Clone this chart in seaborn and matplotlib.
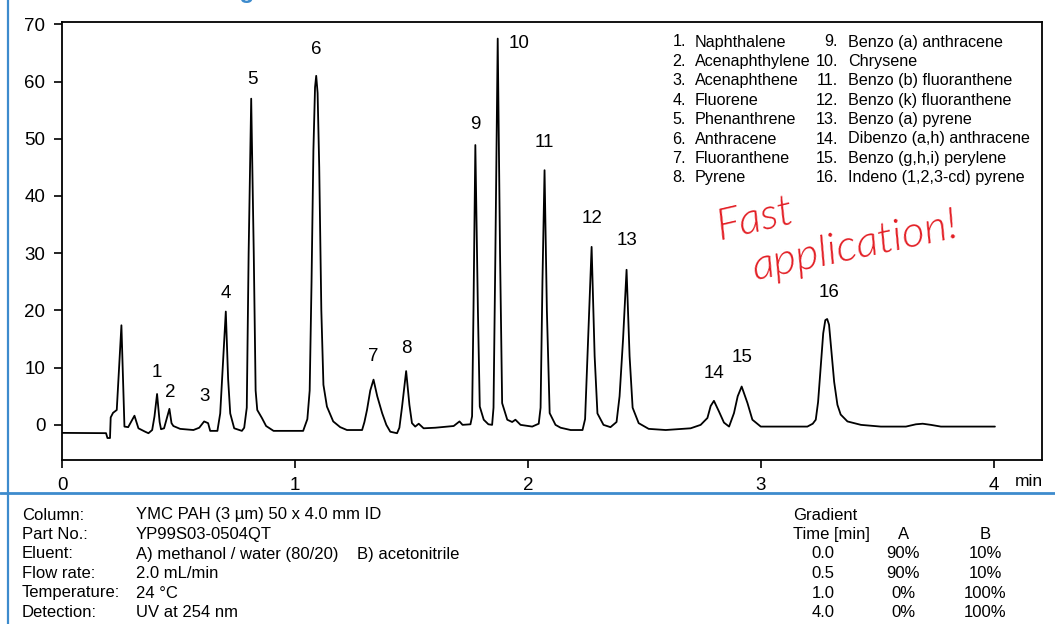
import matplotlib
matplotlib.use("Agg")
import matplotlib.pyplot as plt
from matplotlib.lines import Line2D
import seaborn as sns
import pandas as pd

# ---------------- data ----------------
times = [0.000, 0.189, 0.195, 0.206, 0.209, 0.219, 0.235, 0.255, 0.268, 0.284,
         0.311, 0.328, 0.357, 0.371, 0.387, 0.397, 0.408, 0.419, 0.425, 0.438,
         0.449, 0.461, 0.470, 0.478, 0.507, 0.564, 0.589, 0.610, 0.627, 0.636,
         0.667, 0.679, 0.690, 0.703, 0.713, 0.722, 0.729, 0.739, 0.772, 0.782,
         0.793, 0.801, 0.812, 0.823, 0.831, 0.838, 0.858, 0.876, 0.908, 1.035,
         1.053, 1.063, 1.071, 1.079, 1.086, 1.091, 1.097, 1.104, 1.113, 1.122,
         1.137, 1.164, 1.194, 1.223, 1.288, 1.298, 1.309, 1.323, 1.337, 1.353,
         1.374, 1.392, 1.409, 1.438, 1.448, 1.459, 1.477, 1.491, 1.502, 1.516,
         1.531, 1.552, 1.602, 1.681, 1.697, 1.706, 1.719, 1.753, 1.760, 1.766,
         1.774, 1.785, 1.793, 1.810, 1.830, 1.846, 1.852, 1.860, 1.870, 1.880,
         1.889, 1.911, 1.932, 1.946, 1.968, 2.018, 2.046, 2.054, 2.062, 2.071,
         2.081, 2.093, 2.118, 2.140, 2.183, 2.234, 2.245, 2.258, 2.273, 2.286,
         2.298, 2.324, 2.354, 2.380, 2.393, 2.408, 2.423, 2.436, 2.449, 2.475,
         2.518, 2.591, 2.698, 2.741, 2.770, 2.784, 2.798, 2.820, 2.841, 2.863,
         2.884, 2.900, 2.917, 2.942, 2.963, 2.999, 3.199, 3.222, 3.235, 3.245,
         3.256, 3.267, 3.276, 3.284, 3.292, 3.302, 3.314, 3.328, 3.342, 3.371,
         3.429, 3.514, 3.622, 3.665, 3.694, 3.729, 3.772, 4.004]
signal = [-1.4, -1.45, -2.3, -2.3, 1.3, 2.1, 2.6, 17.4, -0.3, -0.4,
          1.6, -0.6, -1.2, -1.46, -0.9, 1.5, 5.4, 0.5, -0.76, -0.6,
          1.0, 2.8, 0.3, -0.2, -0.7, -0.9, -0.5, 0.6, 0.3, -1.05,
          -1.05, 2.0, 10.0, 19.8, 8.0, 2.0, 0.9, -0.6, -1.05, -0.5,
          3.0, 30.0, 57.0, 30.0, 6.0, 2.6, 1.2, -0.2, -1.05, -1.05,
          1.0, 6.0, 25.0, 48.0, 59.0, 61.0, 58.0, 45.0, 20.0, 7.0,
          3.2, 0.6, -0.4, -0.9, -0.9, 0.5, 2.6, 6.0, 7.9, 5.0,
          2.05, 0.0, -1.2, -1.46, -0.5, 3.0, 9.4, 3.5, 0.3, -0.3,
          0.2, -0.6, -0.5, -0.2, 0.3, 0.6, 0.0, 0.1, 1.5, 20.0,
          48.9, 20.0, 3.2, 0.9, 0.1, 0.0, 3.0, 30.0, 67.5, 30.0,
          3.8, 0.9, 0.5, 0.9, 0.0, -0.3, 0.2, 3.0, 25.0, 44.5,
          20.0, 2.05, 0.0, -0.5, -0.9, -0.9, 1.0, 15.0, 31.1, 12.0,
          2.0, 0.0, -0.4, 0.5, 5.0, 15.0, 27.1, 12.0, 3.0, 0.3,
          -0.7, -0.9, -0.6, 0.0, 1.2, 3.3, 4.2, 2.3, 0.4, -0.3,
          2.05, 5.0, 6.7, 3.8, 0.9, -0.3, -0.3, 0.2, 0.9, 4.0,
          10.0, 16.0, 18.3, 18.5, 17.5, 13.0, 7.5, 3.5, 1.8, 0.6,
          0.0, -0.3, -0.3, 0.1, 0.2, 0.0, -0.3, -0.3]

peak_ids = ["1", "2", "3", "4", "5", "6", "7", "8",
            "9", "10", "11", "12", "13", "14", "15", "16"]
label_t = [0.408, 0.464, 0.610, 0.705, 0.816, 1.091, 1.336, 1.478,
           1.774, 1.963, 2.071, 2.273, 2.427, 2.797, 2.917, 3.290]
label_v = [9.1, 5.6, 4.9, 23.0, 60.3, 65.6, 12.0, 13.4,
           52.5, 66.6, 49.4, 36.0, 32.2, 9.0, 11.8, 23.2]

compounds = ["Naphthalene", "Acenaphthylene", "Acenaphthene", "Fluorene",
             "Phenanthrene", "Anthracene", "Fluoranthene", "Pyrene",
             "Benzo (a) anthracene", "Chrysene", "Benzo (b) fluoranthene",
             "Benzo (k) fluoranthene", "Benzo (a) pyrene",
             "Dibenzo (a,h) anthracene", "Benzo (g,h,i) perylene",
             "Indeno (1,2,3-cd) pyrene"]

x_ticks = [0, 1, 2, 3, 4]
y_ticks = [0, 10, 20, 30, 40, 50, 60, 70]

cond_labels = ["Column:", "Part No.:", "Eluent:", "Flow rate:", "Temperature:", "Detection:"]
cond_values = ["YMC PAH (3 µm) 50 x 4.0 mm ID", "YP99S03-0504QT",
               "A) methanol / water (80/20)", "2.0 mL/min", "24 °C", "UV at 254 nm"]
eluent_b = "B) acetonitrile"

grad_time = ["0.0", "0.5", "1.0", "4.0"]
grad_a = ["90%", "90%", "0%", "0%"]
grad_b = ["10%", "10%", "100%", "100%"]

title_text = "16 PAHs according to EPA 610"
note_line1 = "Fast"
note_line2 = "application!"

# ---------------- figure ----------------
sns.set_theme(style="ticks")
plt.rcParams["font.family"] = ["Liberation Sans", "DejaVu Sans"]

W, H = 1055, 624
fig = plt.figure(figsize=(W / 100, H / 100), dpi=100)
fig.patch.set_facecolor("white")


def P(px, py):
    return px / W, 1 - py / H


ax = fig.add_axes([62 / W, 1 - 460 / H, (1042 - 62) / W, (460 - 22) / H])
df = pd.DataFrame({"time": times, "signal": signal})
sns.lineplot(data=df, x="time", y="signal", ax=ax, color="black",
             linewidth=1.3, sort=False, estimator=None)

ax.set_xlim(0, 4.206)
ax.set_ylim(-6.14, 70.4)
ax.set_xticks(x_ticks)
ax.set_xticklabels([str(v) for v in x_ticks])
ax.set_yticks(y_ticks)
ax.set_yticklabels([str(v) for v in y_ticks])
ax.set_xlabel("")
ax.set_ylabel("")
ax.set_facecolor("white")
ax.grid(False)
for s in ax.spines.values():
    s.set_visible(True)
    s.set_color("black")
    s.set_linewidth(1.3)
ax.tick_params(direction="out", length=6, width=1.2, colors="black",
               labelsize=13.5, pad=6)

for pid, t, v in zip(peak_ids, label_t, label_v):
    ax.text(t, v, pid, ha="center", va="center", fontsize=13.5, color="black")

# "min" unit label
fig.text(*P(1029, 482), "min", ha="center", va="center", fontsize=12.5, color="black")

# compound list
row_y0, row_dy = 42, 19.4
for i, name in enumerate(compounds):
    if i < 8:
        nx, tx, y = 686, 695, row_y0 + i * row_dy
    else:
        nx, tx, y = 838, 848, row_y0 + (i - 8) * row_dy
    fig.text(*P(nx, y), f"{i + 1}.", ha="right", va="center", fontsize=11.6, color="black")
    fig.text(*P(tx, y), name, ha="left", va="center", fontsize=11.6, color="black")

# handwritten note
red = "#e31e24"
note_font = ["Lato", "Open Sans", "Liberation Sans"]
fig.text(*P(755, 220), note_line1, ha="center", va="center", fontsize=32,
         style="italic", fontweight=300, family=note_font, color=red, rotation=13)
fig.text(*P(855, 247), note_line2, ha="center", va="center", fontsize=32,
         style="italic", fontweight=300, family=note_font, color=red, rotation=12)

# decorations: blue frame lines and clipped title
blue = "#3d8bcd"
fig.add_artist(Line2D([0, 1], [1 - 493 / H, 1 - 493 / H], transform=fig.transFigure,
                      color=blue, linewidth=2))
fig.add_artist(Line2D([8 / W, 8 / W], [0, 1], transform=fig.transFigure,
                      color=blue, linewidth=1.6))
fig.text(*P(35, -1.8), title_text, ha="left", va="baseline", fontsize=17.5,
         fontweight="bold", color="#3d8bcd")

# conditions table
rows_y = [515, 534.5, 554, 573.5, 593, 612.5]
for lab, val, y in zip(cond_labels, cond_values, rows_y):
    fig.text(*P(22, y), lab, ha="left", va="center", fontsize=12, color="black")
    fig.text(*P(136, y), val, ha="left", va="center", fontsize=12, color="black")
fig.text(*P(357, rows_y[2]), eluent_b, ha="left", va="center", fontsize=12, color="black")

# gradient table
fig.text(*P(793, rows_y[0]), "Gradient", ha="left", va="center", fontsize=12, color="black")
fig.text(*P(793, rows_y[1]), "Time [min]", ha="left", va="center", fontsize=12, color="black")
fig.text(*P(904, rows_y[1]), "A", ha="center", va="center", fontsize=12, color="black")
fig.text(*P(985, rows_y[1]), "B", ha="center", va="center", fontsize=12, color="black")
for tt, a, b, y in zip(grad_time, grad_a, grad_b, rows_y[2:]):
    fig.text(*P(823, y), tt, ha="center", va="center", fontsize=12, color="black")
    fig.text(*P(903, y), a, ha="center", va="center", fontsize=12, color="black")
    fig.text(*P(985, y), b, ha="center", va="center", fontsize=12, color="black")

fig.savefig("out.png", dpi=100, facecolor="white")
